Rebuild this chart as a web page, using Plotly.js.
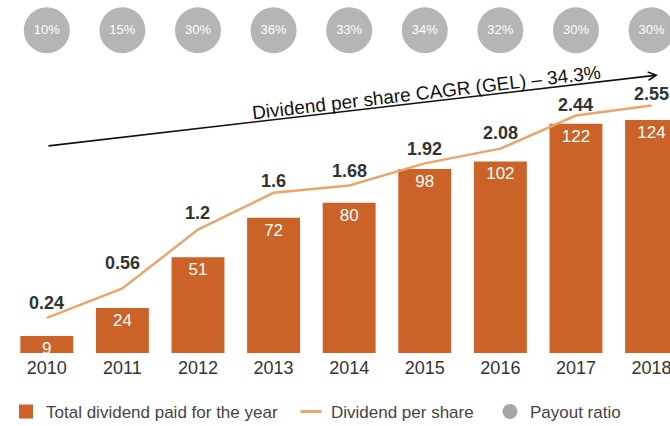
<!DOCTYPE html>
<html>
<head>
<meta charset="utf-8">
<script src="https://cdn.plot.ly/plotly-3.0.1.min.js"></script>
<style>html,body{margin:0;padding:0;background:#fff;}#chart{width:670px;height:426px;}</style>
</head>
<body>
<div id="chart"></div>
<script>
const years = ['2010','2011','2012','2013','2014','2015','2016','2017','2018'];
const totalDividend = [9, 24, 51, 72, 80, 98, 102, 122, 124];
const dividendPerShare = [0.24, 0.56, 1.2, 1.6, 1.68, 1.92, 2.08, 2.44, 2.55];
const payoutRatio = [10, 15, 30, 36, 33, 34, 32, 30, 30];
const dpsLabels = ['0.24','0.56','1.2','1.6','1.68','1.92','2.08','2.44','2.55'];
// label lift above each line point (pixels, styling only)
const dpsLabelLift = [15, 25.5, 17, 12, 14.5, 14, 16, 10.5, 11.7];

const FONT = 'Liberation Sans, Arial, Helvetica, sans-serif';
const ORANGE = '#cb6228';
const LINE = '#e9a56c';
const GREY = '#b5b5b5';

const traces = [
  {
    type: 'bar', x: years, y: totalDividend, width: 0.7,
    marker: {color: ORANGE},
    text: totalDividend.map(String), textposition: 'inside', insidetextanchor: 'end',
    constraintext: 'none', textangle: 0,
    textfont: {family: FONT, size: 17, color: '#ffffff'},
    showlegend: false, hoverinfo: 'skip'
  },
  {
    type: 'scatter', mode: 'lines', x: years, y: dividendPerShare, yaxis: 'y2',
    line: {color: LINE, width: 2.5},
    showlegend: false, hoverinfo: 'skip'
  },
  {
    type: 'scatter', mode: 'markers+text', x: years, y: payoutRatio.map(() => 0.914), yaxis: 'y3',
    marker: {size: 46, color: GREY},
    text: payoutRatio.map(v => v + '%'), textposition: 'middle center', cliponaxis: false,
    textfont: {family: FONT, size: 13, color: '#ffffff'},
    showlegend: false, hoverinfo: 'skip'
  },
  {
    type: 'scatter', mode: 'markers', x: [null], y: [null], name: 'Total dividend paid for the year',
    marker: {symbol: 'square', size: 14, color: ORANGE}, legend: 'legend'
  },
  {
    type: 'scatter', mode: 'markers', x: [null], y: [null], name: 'Dividend per share',
    marker: {symbol: 'line-ew', size: 15, line: {color: LINE, width: 3}}, legend: 'legend2'
  },
  {
    type: 'scatter', mode: 'markers', x: [null], y: [null], name: 'Payout ratio',
    marker: {symbol: 'circle', size: 15, color: '#a6a6a6'}, legend: 'legend3'
  }
];

const legendBase = {
  orientation: 'h', font: {family: FONT, size: 17, color: '#444444'},
  bgcolor: 'rgba(0,0,0,0)', xref: 'container', yref: 'container',
  xanchor: 'left', yanchor: 'middle', y: 0.0329
};

const dpsAnnotations = years.map((yr, i) => ({
  xref: 'x', yref: 'y2', x: i, y: dividendPerShare[i],
  text: '<b>' + dpsLabels[i] + '</b>', showarrow: false,
  xanchor: 'center', yanchor: 'middle', yshift: dpsLabelLift[i],
  font: {family: FONT, size: 18, color: '#333333'}
}));

const layout = {
  width: 670, height: 426,
  margin: {l: 9, r: 0, t: 0, b: 73},
  paper_bgcolor: '#ffffff', plot_bgcolor: '#ffffff',
  font: {family: FONT},
  xaxis: {
    type: 'category', range: [-0.5, 8.244], showgrid: false, zeroline: false,
    showline: false, ticks: '', ticklabelstandoff: 2,
    tickfont: {family: FONT, size: 18, color: '#333333'}, fixedrange: true
  },
  yaxis: {range: [0, 187.9], visible: false, fixedrange: true},
  yaxis2: {range: [-0.141, 3.696], overlaying: 'y', visible: false, fixedrange: true},
  yaxis3: {range: [0, 1], overlaying: 'y', visible: false, fixedrange: true},
  legend: Object.assign({}, legendBase, {x: 0.009}),
  legend2: Object.assign({}, legendBase, {x: 0.4343}),
  legend3: Object.assign({}, legendBase, {x: 0.7313}),
  annotations: [
    {
      xref: 'paper', yref: 'paper', x: 0.9818, y: 0.7875,
      ax: -611, ay: 71, axref: 'pixel', ayref: 'pixel',
      text: '', showarrow: true, arrowhead: 5, arrowsize: 1, arrowwidth: 1.6,
      arrowcolor: '#111111', standoff: 0
    },
    {
      xref: 'paper', yref: 'paper', x: 0.632, y: 0.832,
      text: 'Dividend per share CAGR (GEL) – 34.3%', showarrow: false,
      textangle: -6.7, font: {family: FONT, size: 19, color: '#111111'}
    }
  ].concat(dpsAnnotations),
  showlegend: true
};

Plotly.newPlot('chart', traces, layout, {displayModeBar: false, staticPlot: true});
</script>
</body>
</html>
